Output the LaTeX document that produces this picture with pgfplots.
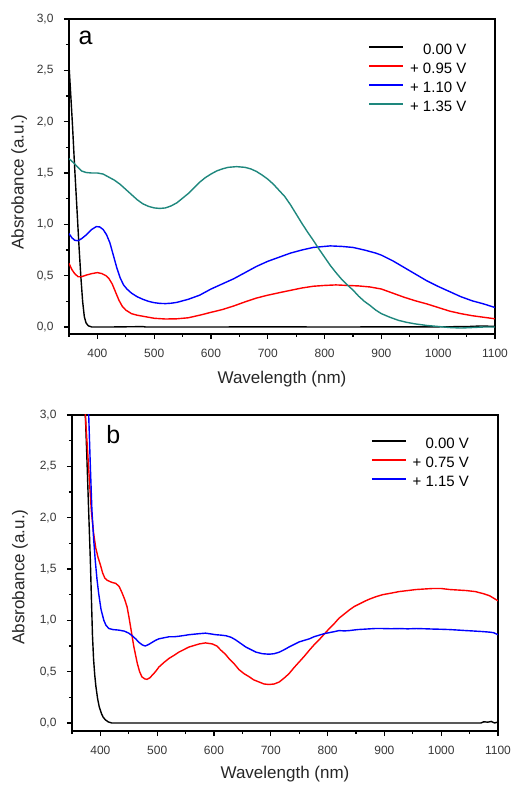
\documentclass[border=0pt]{standalone}
\usepackage{fontspec}
\setmainfont{Liberation Sans}
\usepackage{pgfplots}
\pgfplotsset{compat=1.18}
\definecolor{tealc}{RGB}{30,135,125}
\definecolor{tickc}{RGB}{55,55,55}
\pgfplotsset{
  specaxis/.style={
    scale only axis,
    anchor=south west,
    xmin=350, xmax=1100,
    ymax=3.0,
    axis line style={line width=1.3pt, black},
    tick pos=left,
    tick align=outside,
    major tick length=5pt,
    minor tick length=3pt,
    every tick/.style={line width=1.1pt, black},
    xtick={400,500,...,1100},
    minor xtick={350,450,...,1050},
    ytick={0,0.5,...,3.0},
    minor ytick={0.25,0.75,...,2.75},
    /pgf/number format/assume math mode=true,
    yticklabel style={/pgf/number format/.cd, fixed, fixed zerofill, precision=1, use comma, /tikz/.cd, font=\fontsize{12}{14}\selectfont, text=tickc, xshift=-7pt},
    xticklabel style={/pgf/number format/.cd, fixed, set thousands separator={}, /tikz/.cd, font=\fontsize{12}{14}\selectfont, text=tickc, yshift=-7pt},
    scaled ticks=false,
    label style={font=\fontsize{17}{20}\selectfont, text=black!85},
    legend style={draw=none, fill=none, font=\fontsize{15}{18}\selectfont, inner sep=0pt, row sep=5pt, column sep=6pt,
      nodes={inner sep=0pt, text height=11pt, text depth=3pt}},
    legend cell align=left,
    legend image code/.code={\draw[line width=1.4pt,#1] (0pt,3.5pt) -- (34pt,3.5pt);},
    every axis plot/.append style={line width=1.4pt},
    clip=true,
  }
}
\begin{document}
\begin{tikzpicture}
\path[use as bounding box] (0pt,0pt) rectangle (513pt,785pt);
% ---------------- panel a ----------------
\begin{axis}[specaxis,
  at={(69pt,451pt)}, width=426pt, height=315pt,
  ymin=-0.068,
  xlabel={Wavelength (nm)},
  ylabel={Absrobance (a.u.)},
  xlabel style={at={(axis description cs:0.5,-0.116)}, anchor=north, inner sep=0pt},
  ylabel style={at={(axis description cs:-0.117,0.4825)}, anchor=center, inner sep=0pt},
  legend style={at={(axis description cs:0.703,0.923)}, anchor=north west},
]
\addplot[black] coordinates {(350,2.55)(353,2.27)(356,1.98)(360,1.55)(364,1.15)(368,0.75)(371,0.48)(374,0.25)(377,0.1)(380,0.04)(384,0.012)(390,0.0)(420,0.0)(480,0.004)(485,0.0)(600,0.0)(700,0.002)(800,0.0)(1000,0.002)(1050,0.004)(1075,0.01)(1100,0.006)};
\addlegendentry{\phantom{+}\ 0.00 V}
\addplot[red] coordinates {(350,0.62)(355,0.56)(360,0.52)(366,0.49)(372,0.49)(380,0.505)(390,0.52)(400,0.53)(408,0.52)(415,0.50)(420,0.475)(426,0.42)(432,0.34)(438,0.26)(444,0.20)(450,0.165)(460,0.13)(470,0.115)(480,0.105)(490,0.095)(500,0.085)(520,0.078)(540,0.08)(560,0.09)(580,0.115)(600,0.143)(620,0.17)(640,0.205)(660,0.245)(680,0.282)(700,0.31)(725,0.34)(760,0.38)(780,0.397)(800,0.405)(820,0.41)(840,0.405)(860,0.40)(880,0.39)(900,0.37)(920,0.33)(940,0.29)(960,0.255)(980,0.225)(1000,0.19)(1020,0.155)(1040,0.13)(1060,0.11)(1080,0.095)(1100,0.08)};
\addlegendentry{+ 0.95 V}
\addplot[blue] coordinates {(350,0.91)(355,0.87)(360,0.845)(366,0.84)(372,0.86)(380,0.895)(390,0.95)(398,0.978)(404,0.975)(410,0.95)(416,0.90)(422,0.82)(428,0.70)(434,0.58)(440,0.48)(446,0.41)(452,0.37)(460,0.33)(470,0.295)(480,0.27)(490,0.25)(500,0.237)(510,0.23)(520,0.228)(530,0.232)(540,0.24)(550,0.255)(560,0.27)(570,0.29)(580,0.31)(590,0.34)(600,0.37)(620,0.42)(640,0.47)(660,0.53)(680,0.59)(700,0.64)(720,0.68)(740,0.72)(760,0.75)(780,0.775)(800,0.785)(810,0.79)(830,0.785)(850,0.775)(870,0.75)(890,0.72)(900,0.70)(920,0.645)(940,0.58)(960,0.515)(980,0.45)(1000,0.395)(1020,0.345)(1040,0.295)(1060,0.255)(1080,0.225)(1100,0.19)};
\addlegendentry{+ 1.10 V}
\addplot[tealc] coordinates {(350,1.64)(358,1.60)(365,1.56)(372,1.52)(380,1.505)(390,1.50)(400,1.50)(410,1.49)(420,1.46)(430,1.43)(440,1.39)(450,1.34)(460,1.29)(470,1.24)(480,1.20)(490,1.175)(500,1.16)(510,1.155)(520,1.16)(530,1.18)(540,1.21)(550,1.255)(560,1.30)(570,1.355)(580,1.41)(590,1.455)(600,1.49)(610,1.52)(620,1.54)(630,1.555)(645,1.562)(660,1.555)(670,1.54)(680,1.515)(690,1.48)(700,1.44)(710,1.39)(720,1.33)(730,1.27)(740,1.19)(750,1.10)(760,1.01)(770,0.925)(780,0.845)(790,0.76)(800,0.68)(810,0.60)(820,0.53)(830,0.465)(840,0.41)(850,0.36)(860,0.30)(870,0.25)(880,0.21)(890,0.165)(900,0.13)(915,0.095)(930,0.065)(945,0.045)(960,0.03)(980,0.015)(1000,0.005)(1020,-0.005)(1040,-0.01)(1060,-0.005)(1080,0.0)(1100,0.0)};
\addlegendentry{+ 1.35 V}
\node[anchor=west, inner sep=0pt, font=\fontsize{25}{28}\selectfont] at (axis description cs:0.022,0.939) {a};
\end{axis}
% ---------------- panel b ----------------
\begin{axis}[specaxis,
  at={(72pt,54pt)}, width=426pt, height=316pt,
  ymin=-0.078,
  xlabel={Wavelength (nm)},
  ylabel={Absrobance (a.u.)},
  xlabel style={at={(axis description cs:0.5,-0.112)}, anchor=north, inner sep=0pt},
  ylabel style={at={(axis description cs:-0.122,0.487)}, anchor=center, inner sep=0pt},
  legend style={at={(axis description cs:0.702,0.929)}, anchor=north west},
]
\addplot[black] coordinates {(371,3.3)(373.5,3.0)(376,2.62)(379,2.12)(382.3,1.585)(384,1.25)(386,0.86)(388,0.62)(390,0.47)(392,0.36)(395,0.24)(398,0.156)(402,0.09)(405,0.055)(409,0.03)(414,0.01)(420,0.0)(600,0.0)(900,0.0)(1070,0.0)(1075,0.012)(1082,0.008)(1088,0.015)(1094,0.0)(1100,0.01)};
\addlegendentry{\phantom{+}\ 0.00 V}
\addplot[red] coordinates {(370,3.35)(373.5,3.0)(378,2.6)(384,2.07)(388,1.85)(392,1.7)(396,1.61)(400,1.54)(404,1.46)(408,1.41)(412,1.39)(420,1.37)(427,1.36)(433,1.33)(438,1.27)(443,1.2)(447,1.13)(450,1.04)(453,0.94)(456,0.84)(459,0.74)(462,0.66)(465,0.58)(469,0.5)(473,0.45)(478,0.43)(482,0.425)(487,0.44)(492,0.47)(497,0.50)(503,0.545)(512,0.59)(521,0.63)(530,0.66)(538,0.69)(547,0.715)(556,0.74)(565,0.755)(574,0.77)(585,0.78)(597,0.77)(605,0.75)(612,0.71)(620,0.67)(626,0.63)(635,0.58)(644,0.52)(653,0.48)(662,0.45)(670,0.42)(679,0.40)(688,0.38)(697,0.375)(706,0.38)(715,0.40)(724,0.44)(732,0.48)(741,0.54)(750,0.595)(759,0.65)(768,0.71)(776,0.76)(785,0.81)(794,0.865)(803,0.92)(812,0.97)(820,1.02)(829,1.06)(838,1.10)(847,1.135)(856,1.16)(865,1.185)(873,1.205)(885,1.23)(897,1.25)(912,1.265)(926,1.28)(941,1.29)(956,1.30)(970,1.305)(985,1.31)(1000,1.31)(1015,1.30)(1030,1.295)(1044,1.29)(1060,1.28)(1074,1.26)(1085,1.24)(1091,1.22)(1100,1.19)};
\addlegendentry{+ 0.75 V}
\addplot[blue] coordinates {(377,3.35)(379.4,3.0)(382,2.55)(385,2.08)(388,1.8)(391,1.58)(394,1.4)(397,1.26)(401,1.11)(406,1.0)(410,0.95)(415,0.92)(422,0.91)(432,0.905)(442,0.895)(450,0.875)(456,0.85)(462,0.82)(468,0.785)(474,0.76)(479,0.75)(485,0.765)(491,0.785)(497,0.805)(503,0.82)(512,0.83)(521,0.84)(530,0.84)(538,0.845)(547,0.852)(556,0.86)(565,0.865)(574,0.87)(585,0.875)(594,0.868)(603,0.86)(612,0.856)(621,0.85)(630,0.835)(638,0.81)(647,0.775)(656,0.74)(665,0.715)(674,0.69)(685,0.675)(697,0.67)(706,0.675)(715,0.69)(724,0.715)(732,0.74)(741,0.765)(750,0.79)(759,0.805)(768,0.82)(776,0.84)(785,0.855)(794,0.87)(803,0.88)(812,0.89)(820,0.90)(830,0.897)(838,0.90)(853,0.91)(868,0.915)(883,0.92)(897,0.92)(912,0.918)(926,0.92)(941,0.917)(956,0.92)(970,0.918)(985,0.915)(1000,0.913)(1015,0.91)(1030,0.905)(1044,0.90)(1060,0.895)(1074,0.89)(1085,0.885)(1092,0.88)(1100,0.86)};
\addlegendentry{+ 1.15 V}
\node[anchor=west, inner sep=0pt, font=\fontsize{25}{28}\selectfont] at (axis description cs:0.08,0.937) {b};
\end{axis}
\end{tikzpicture}
\end{document}
